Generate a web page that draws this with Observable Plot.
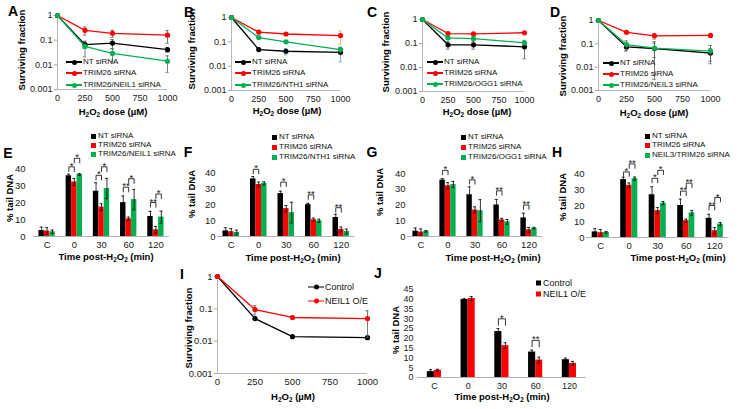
<!DOCTYPE html>
<html><head><meta charset="utf-8">
<script src="https://cdn.jsdelivr.net/npm/d3@7"></script>
<script src="https://cdn.jsdelivr.net/npm/@observablehq/plot@0.6"></script>
<style>
body{margin:0;background:#fff;}
#fig{position:relative;width:746px;height:409px;overflow:hidden;background:#fff;font-family:"Liberation Sans",Arial,Helvetica,sans-serif;color:#000;}
.abs{position:absolute;white-space:nowrap;line-height:1;}
.letter{font-weight:bold;font-size:14px;transform:translate(-50%,-50%);}
.ytitle{font-weight:bold;font-size:9.5px;transform:translate(-50%,-50%) rotate(-90deg);}
.xtitle{font-weight:bold;font-size:9.5px;transform:translate(-50%,-50%);}
sub{font-size:0.68em;vertical-align:-0.25em;line-height:0;}
.leg{font-size:8px;transform:translateY(-50%);display:flex;align-items:center;color:#111;}
.leg.big{font-size:9px;}
.sw{display:inline-block;width:5px;height:5px;margin-right:2px;}
.ln{display:inline-block;position:relative;width:16px;height:1.4px;margin-right:1px;}
.ln::after{content:"";position:absolute;left:5.5px;top:-1.8px;width:5px;height:5px;border-radius:50%;background:inherit;}
#fig svg g[aria-label="y-axis tick"]{stroke:#a6a6a6;}
#fig svg g[aria-label="y-axis"] line{stroke:#a6a6a6;}
</style>
</head><body>
<div id="fig"></div>
<script>
// ---------- shared categories / ticks ----------
const doses = [0, 250, 500, 1000];
const doseTicks = [0, 250, 500, 750, 1000];
const logTicks = [0.001, 0.01, 0.1, 1];
const timeCats = ["C", "0", "30", "60", "120"];
const tailTicks = [0, 10, 20, 30, 40];
const tailTicksJ = [0, 5, 10, 15, 20, 25, 30, 35, 40, 45];

// ---------- Panel A ----------
const A_series = ["NT siRNA", "TRIM26 siRNA", "TRIM26/NEIL1 siRNA"];
const A_NT = [1, 0.066, 0.076, 0.041];
const A_NT_err = [0, 0.02, 0.03, 0.008];
const A_TRIM26 = [1, 0.25, 0.19, 0.16];
const A_TRIM26_err = [0, 0.09, 0.06, 0.085];
const A_NEIL1 = [1, 0.056, 0.029, 0.014];
const A_NEIL1_err = [0, 0.035, 0.015, 0.009];

// ---------- Panel B ----------
const B_series = ["NT siRNA", "TRIM26 siRNA", "TRIM26/NTH1 siRNA"];
const B_NT = [1, 0.048, 0.041, 0.037];
const B_NT_err = [0, 0.005, 0.012, 0.022];
const B_TRIM26 = [1, 0.25, 0.21, 0.18];
const B_TRIM26_err = [0, 0.03, 0.03, 0.1];
const B_NTH1 = [1, 0.15, 0.10, 0.048];
const B_NTH1_err = [0, 0.01, 0.01, 0.012];

// ---------- Panel C ----------
const C_series = ["NT siRNA", "TRIM26 siRNA", "TRIM26/OGG1 siRNA"];
const C_NT = [1, 0.088, 0.088, 0.073];
const C_NT_err = [0, 0.03, 0.03, 0.05];
const C_TRIM26 = [1, 0.26, 0.25, 0.28];
const C_TRIM26_err = [0, 0.02, 0.02, 0.02];
const C_OGG1 = [1, 0.17, 0.16, 0.107];
const C_OGG1_err = [0, 0.01, 0.02, 0.02];

// ---------- Panel D ----------
const D_series = ["NT siRNA", "TRIM26 siRNA", "TRIM26/NEIL3 siRNA"];
const D_NT = [1, 0.074, 0.063, 0.040];
const D_NT_err = [0, 0.025, 0.06, 0.022];
const D_TRIM26 = [1, 0.31, 0.22, 0.23];
const D_TRIM26_err = [0, 0.02, 0.06, 0.02];
const D_NEIL3 = [1, 0.093, 0.066, 0.049];
const D_NEIL3_err = [0, 0.04, 0.04, 0.035];

// ---------- Panel E ----------
const E_series = ["NT siRNA", "TRIM26 siRNA", "TRIM26/NEIL1 siRNA"];
const E_NT = [3.5, 35.7, 26.6, 19.9, 11.8];
const E_NT_err = [2, 1, 5, 4, 3];
const E_TRIM26 = [3.2, 32.1, 17.3, 10.4, 3.9];
const E_TRIM26_err = [2, 2, 2, 1, 2];
const E_NEIL1 = [2.8, 36.5, 28.2, 21.7, 11.4];
const E_NEIL1_err = [1, 0.5, 6, 6, 3.5];
const E_sig = [
  {cat: 1, a: 0, b: 1, h: 41, label: "*"}, {cat: 1, a: 1, b: 2, h: 46, label: "*"},
  {cat: 2, a: 0, b: 1, h: 36, label: "*"}, {cat: 2, a: 1, b: 2, h: 41, label: "*"},
  {cat: 3, a: 0, b: 1, h: 29, label: "**"}, {cat: 3, a: 1, b: 2, h: 34, label: "*"},
  {cat: 4, a: 0, b: 1, h: 20, label: "**"}, {cat: 4, a: 1, b: 2, h: 25, label: "*"}
];

// ---------- Panel F ----------
const F_series = ["NT siRNA", "TRIM26 siRNA", "TRIM26/NTH1 siRNA"];
const F_NT = [3.5, 36, 26.8, 19.9, 11.9];
const F_NT_err = [2, 1.5, 1.5, 0.8, 2];
const F_TRIM26 = [3, 32.5, 17.4, 10.5, 4.4];
const F_TRIM26_err = [2, 1.5, 2, 1, 1.5];
const F_NTH1 = [2.5, 33.2, 14.9, 9.8, 3.1];
const F_NTH1_err = [1.5, 1, 6.5, 1, 1.5];
const F_sig = [
  {cat: 1, a: 0, b: 1, h: 42, label: "*"}, {cat: 2, a: 0, b: 1, h: 34, label: "*"},
  {cat: 3, a: 0, b: 1, h: 26, label: "**"}, {cat: 4, a: 0, b: 1, h: 18, label: "**"}
];

// ---------- Panel G ----------
const G_series = ["NT siRNA", "TRIM26 siRNA", "TRIM26/OGG1 siRNA"];
const G_NT = [3.4, 35.8, 26.5, 20, 11.8];
const G_NT_err = [2, 1, 5, 3.5, 3];
const G_TRIM26 = [2.8, 32.2, 16.8, 10.5, 4.2];
const G_TRIM26_err = [2, 2, 2, 1, 1.5];
const G_OGG1 = [3.3, 33, 16.4, 9.3, 5.3];
const G_OGG1_err = [0.5, 2, 7, 1.5, 0.5];
const G_sig = [
  {cat: 1, a: 0, b: 1, h: 42, label: "*"}, {cat: 2, a: 0, b: 1, h: 36, label: "*"},
  {cat: 3, a: 0, b: 1, h: 29, label: "**"}, {cat: 4, a: 0, b: 1, h: 20, label: "**"}
];

// ---------- Panel H ----------
const H_series = ["NT siRNA", "TRIM26 siRNA", "NEIL3/TRIM26 siRNA"];
const H_NT = [3.5, 36.2, 26.7, 20, 12];
const H_NT_err = [2, 1.5, 5, 4, 2.5];
const H_TRIM26 = [3, 32.6, 16.8, 10.5, 4.2];
const H_TRIM26_err = [2, 1.5, 2, 1, 2];
const H_NEIL3 = [3.2, 36.8, 21.5, 15.4, 8.4];
const H_NEIL3_err = [0.5, 1, 1, 1.5, 1];
const H_sig = [
  {cat: 1, a: 0, b: 1, h: 41, label: "*"}, {cat: 1, a: 1, b: 2, h: 46, label: "**"},
  {cat: 2, a: 0, b: 1, h: 37, label: "*"}, {cat: 2, a: 1, b: 2, h: 42, label: "*"},
  {cat: 3, a: 0, b: 1, h: 29, label: "**"}, {cat: 3, a: 1, b: 2, h: 34, label: "**"},
  {cat: 4, a: 0, b: 1, h: 20, label: "**"}, {cat: 4, a: 1, b: 2, h: 25, label: "*"}
];

// ---------- Panel I ----------
const I_series = ["Control", "NEIL1 O/E"];
const I_Control = [1, 0.05, 0.0138, 0.0128];
const I_Control_err = [0, 0.002, 0.001, 0.001];
const I_NEIL1 = [1, 0.095, 0.054, 0.05];
const I_NEIL1_err = [0, 0.03, 0.005, 0.037];

// ---------- Panel J ----------
const J_series = ["Control", "NEIL1 O/E"];
const J_Control = [3, 39.9, 23.5, 13, 9.1];
const J_Control_err = [1, 0.4, 1.5, 1, 0.8];
const J_NEIL1 = [3.7, 40.4, 16.3, 8.9, 7.2];
const J_NEIL1_err = [0.5, 1, 1.5, 1.5, 1];
const J_sig = [
  {cat: 2, a: 0, b: 1, h: 30, label: "*"}, {cat: 3, a: 0, b: 1, h: 19, label: "**"}
];

// ---------- styling ----------
const FONT = '"Liberation Sans", Arial, Helvetica, sans-serif';
const BLACK = "#000000", RED = "#ff0000", GREEN = "#00b050";
const AXIS = "#a6a6a6";
const fig = document.getElementById("fig");
const M = {l: 40, r: 24, t: 36, b: 22};

function place(node, left, top) {
  node.style.position = "absolute";
  node.style.left = left + "px";
  node.style.top = top + "px";
  fig.appendChild(node);
}
function box(frame) {
  const [x0, x1, y0, y1] = frame;
  return {left: x0 - M.l, top: y0 - M.t, width: x1 - x0 + M.l + M.r, height: y1 - y0 + M.t + M.b};
}
function baseStyle(fs) {
  return {background: "transparent", fontFamily: FONT, fontSize: fs, color: "#1a1a1a", overflow: "visible"};
}

function linePanel(cfg) {
  const [x0, x1] = cfg.frame;
  const b = box(cfg.frame);
  const capW = 1.7 * 1000 / (x1 - x0);
  const floor = 0.00105;
  const marks = [
    Plot.ruleX([0], {stroke: AXIS, strokeWidth: 0.8}),
    Plot.ruleY([0.001], {stroke: AXIS, strokeWidth: 0.8})
  ];
  cfg.series.forEach((name, s) => {
    const data = doses.map((x, i) => ({x, v: cfg.values[s][i], e: cfg.errors[s][i]}));
    const ed = data.filter(d => d.e > 0);
    const lo = d => Math.max(d.v - d.e, floor);
    const hi = d => d.v + d.e;
    const ec = cfg.errColors ? cfg.errColors[s] : "#595959";
    marks.push(Plot.line(data, {x: "x", y: "v", stroke: cfg.colors[s], strokeWidth: 1.3}));
    marks.push(Plot.ruleX(ed, {x: "x", y1: lo, y2: hi, stroke: ec, strokeWidth: 0.8}));
    marks.push(Plot.ruleY(ed, {y: hi, x1: d => d.x - capW, x2: d => d.x + capW, stroke: ec, strokeWidth: 0.8}));
    marks.push(Plot.ruleY(ed.filter(d => d.v - d.e > floor), {y: lo, x1: d => d.x - capW, x2: d => d.x + capW, stroke: ec, strokeWidth: 0.8}));
    marks.push(Plot.dot(data, {x: "x", y: "v", r: 2.6, fill: cfg.colors[s], stroke: "none"}));
  });
  const svg = Plot.plot({
    width: b.width, height: b.height,
    marginLeft: M.l, marginRight: M.r, marginTop: M.t, marginBottom: M.b,
    style: baseStyle(cfg.fontSize || "9px"),
    x: {domain: [0, 1000], ticks: doseTicks, tickFormat: d => String(d), tickSize: 0, tickPadding: 5, label: null},
    y: {type: "log", domain: [0.001, 1], ticks: logTicks, tickFormat: d => String(d), tickSize: 3, tickPadding: 2, label: null},
    marks
  });
  place(svg, b.left, b.top);
}

function barPanel(cfg) {
  const [x0, x1] = cfg.frame;
  const b = box(cfg.frame);
  const n = cfg.series.length;
  const w = cfg.barW;
  const pos = (i, s) => i + (s - (n - 1) / 2) * w;
  const capW = 1.5 * 5 / (x1 - x0);
  const marks = [];
  cfg.series.forEach((name, s) => {
    const data = timeCats.map((c, i) => ({i, v: cfg.values[s][i]}));
    marks.push(Plot.rect(data, {x1: d => pos(d.i, s) - w / 2, x2: d => pos(d.i, s) + w / 2, y1: () => 0, y2: "v", fill: cfg.colors[s]}));
  });
  marks.push(Plot.ruleY([0], {stroke: AXIS, strokeWidth: 0.9}));
  cfg.series.forEach((name, s) => {
    const data = timeCats.map((c, i) => ({x: pos(i, s), v: cfg.values[s][i], e: cfg.errors[s][i]}));
    const lo = d => Math.max(d.v - d.e, 0), hi = d => d.v + d.e;
    marks.push(Plot.ruleX(data, {x: "x", y1: lo, y2: hi, stroke: "#000", strokeWidth: 0.8}));
    marks.push(Plot.ruleY(data, {y: hi, x1: d => d.x - capW, x2: d => d.x + capW, stroke: "#000", strokeWidth: 0.8}));
    marks.push(Plot.ruleY(data, {y: lo, x1: d => d.x - capW, x2: d => d.x + capW, stroke: "#000", strokeWidth: 0.8}));
  });
  const segs = cfg.sig.flatMap(k => {
    const xa = pos(k.cat, k.a), xb = pos(k.cat, k.b), lo = k.h - cfg.leg;
    return [
      {x1: xa, y1: lo, x2: xa, y2: k.h},
      {x1: xa, y1: k.h, x2: xb, y2: k.h},
      {x1: xb, y1: k.h, x2: xb, y2: lo}
    ];
  });
  marks.push(Plot.link(segs, {x1: "x1", y1: "y1", x2: "x2", y2: "y2", stroke: "#000", strokeWidth: 0.8}));
  marks.push(Plot.text(cfg.sig, {x: k => (pos(k.cat, k.a) + pos(k.cat, k.b)) / 2, y: "h", text: "label", lineAnchor: "bottom", dy: 2, fontSize: 9.5}));
  const svg = Plot.plot({
    width: b.width, height: b.height,
    marginLeft: M.l, marginRight: M.r, marginTop: M.t, marginBottom: M.b,
    style: baseStyle(cfg.fontSize || "9.5px"),
    x: {domain: [-0.5, 4.5], ticks: [0, 1, 2, 3, 4], tickFormat: i => timeCats[i], tickSize: 0, tickPadding: 5, label: null},
    y: {domain: [0, cfg.yMax], ticks: cfg.yTicks, tickSize: 0, tickPadding: cfg.yPad, label: null},
    marks
  });
  place(svg, b.left, b.top);
}

function text(html, x, y, cls) {
  const d = document.createElement("div");
  d.className = "abs " + cls;
  d.innerHTML = html;
  d.style.left = x + "px";
  d.style.top = y + "px";
  fig.appendChild(d);
}
function lineLegend(names, colors, x, ys, big) {
  names.forEach((nm, i) => {
    text(`<span class="ln" style="background:${colors[i]}"></span>${nm}`, x, ys[i], "leg" + (big ? " big" : ""));
  });
}
function barLegend(names, colors, x, ys, big) {
  names.forEach((nm, i) => {
    text(`<span class="sw" style="background:${colors[i]}"></span>${nm}`, x, ys[i], "leg" + (big ? " big" : ""));
  });
}

const C3 = [BLACK, RED, GREEN];
const H2O2 = "H<sub>2</sub>O<sub>2</sub>";

// ---------- draw line panels ----------
linePanel({frame: [57, 167, 15, 89], series: A_series, values: [A_NT, A_TRIM26, A_NEIL1], errors: [A_NT_err, A_TRIM26_err, A_NEIL1_err], colors: C3});
linePanel({frame: [231, 340, 17, 90], series: B_series, values: [B_NT, B_TRIM26, B_NTH1], errors: [B_NT_err, B_TRIM26_err, B_NTH1_err], colors: C3, errColors: ["#5b9bd5", "#f4a460", "#595959"]});
linePanel({frame: [422, 524, 19, 91], series: C_series, values: [C_NT, C_TRIM26, C_OGG1], errors: [C_NT_err, C_TRIM26_err, C_OGG1_err], colors: C3});
linePanel({frame: [598, 710, 20, 90], series: D_series, values: [D_NT, D_TRIM26, D_NEIL3], errors: [D_NT_err, D_TRIM26_err, D_NEIL3_err], colors: C3});
linePanel({frame: [217, 367, 276, 373], series: I_series, values: [I_Control, I_NEIL1], errors: [I_Control_err, I_NEIL1_err], colors: [BLACK, RED], fontSize: "9.5px"});

// ---------- draw bar panels ----------
barPanel({frame: [33.4, 169.4, 168, 236], series: E_series, values: [E_NT, E_TRIM26, E_NEIL1], errors: [E_NT_err, E_TRIM26_err, E_NEIL1_err], colors: C3, sig: E_sig, barW: 0.2, leg: 3, yMax: 40, yTicks: tailTicks, yPad: 8});
barPanel({frame: [217.25, 354.75, 172, 236], series: F_series, values: [F_NT, F_TRIM26, F_NTH1], errors: [F_NT_err, F_TRIM26_err, F_NTH1_err], colors: C3, sig: F_sig, barW: 0.2, leg: 3, yMax: 40, yTicks: tailTicks, yPad: 2});
barPanel({frame: [406.5, 541.5, 173, 236], series: G_series, values: [G_NT, G_TRIM26, G_OGG1], errors: [G_NT_err, G_TRIM26_err, G_OGG1_err], colors: C3, sig: G_sig, barW: 0.2, leg: 3, yMax: 40, yTicks: tailTicks, yPad: 2});
barPanel({frame: [585.75, 728.25, 173, 237], series: H_series, values: [H_NT, H_TRIM26, H_NEIL3], errors: [H_NT_err, H_TRIM26_err, H_NEIL3_err], colors: C3, sig: H_sig, barW: 0.2, leg: 3, yMax: 40, yTicks: tailTicks, yPad: 2});
barPanel({frame: [417.1, 585.9, 289, 377], series: J_series, values: [J_Control, J_NEIL1], errors: [J_Control_err, J_NEIL1_err], colors: [BLACK, RED], sig: J_sig, barW: 0.21, leg: 3.5, yMax: 45, yTicks: tailTicksJ, yPad: 4, fontSize: "9px"});

// ---------- titles ----------
[["Surviving fraction", 22, 50], ["Surviving fraction", 192, 49], ["Surviving fraction", 386, 52], ["Surviving fraction", 563, 56],
 ["% tail DNA", 10, 198], ["% tail DNA", 192, 194], ["% tail DNA", 380, 192], ["% tail DNA", 563, 197],
 ["Surviving fraction", 189, 328], ["% tail DNA", 396, 330]].forEach(([t, x, y]) => text(t, x, y, "ytitle"));

[[`${H2O2} dose (µM)`, 113, 112], [`${H2O2} dose (µM)`, 287, 111], [`${H2O2} dose (µM)`, 477, 112], [`${H2O2} dose (µM)`, 654, 113],
 [`Time post-${H2O2} (min)`, 106, 257], [`Time post-${H2O2} (min)`, 293, 258], [`Time post-${H2O2} (min)`, 493, 258], [`Time post-${H2O2} (min)`, 678, 258],
 [`${H2O2} (µM)`, 293, 397], [`Time post-${H2O2} (min)`, 502, 397]].forEach(([t, x, y]) => text(t, x, y, "xtitle"));

// ---------- legends ----------
lineLegend(A_series, C3, 66, [62, 73, 85]);
lineLegend(B_series, C3, 235, [62, 73, 85]);
lineLegend(C_series, C3, 427, [62, 73, 84]);
lineLegend(D_series, C3, 603, [63, 74, 85]);
lineLegend(I_series, [BLACK, RED], 308, [287, 301], true);
barLegend(E_series, C3, 91, [136, 145, 154]);
barLegend(F_series, C3, 272, [137, 147, 157]);
barLegend(G_series, C3, 461, [137, 147, 157]);
barLegend(H_series, C3, 645, [136, 145, 155]);
barLegend(J_series, [BLACK, RED], 536, [283, 294], true);

// ---------- panel letters ----------
[["A", 13, 11], ["B", 189, 12], ["C", 372, 12], ["D", 555, 12], ["E", 8, 153], ["F", 188, 152],
 ["G", 372, 152], ["H", 557, 152], ["I", 182, 274], ["J", 378, 273]].forEach(([t, x, y]) => text(t, x, y, "letter"));
</script>
</body></html>
